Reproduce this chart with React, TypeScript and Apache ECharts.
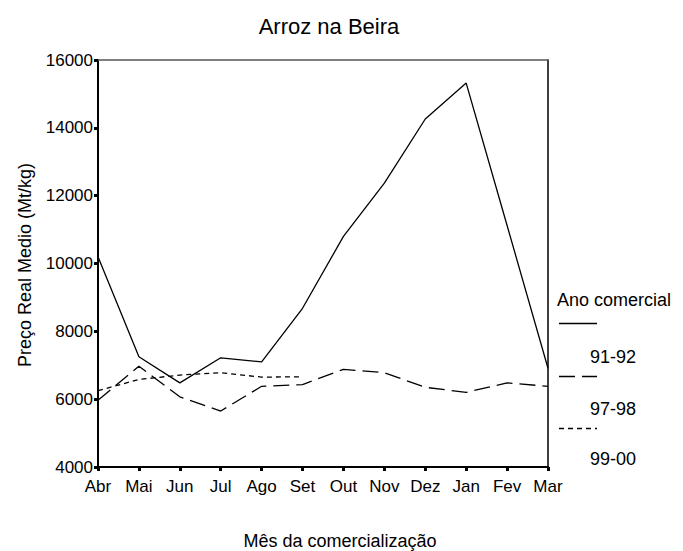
import React, { useEffect, useRef } from "react";
import * as echarts from "echarts";

const months = ["Abr", "Mai", "Jun", "Jul", "Ago", "Set", "Out", "Nov", "Dez", "Jan", "Fev", "Mar"];
const s9192 = [10200, 7250, 6480, 7220, 7100, 8680, 10800, 12370, 14260, 15320, 11120, 6910];
const s9798 = [5970, 6970, 6070, 5650, 6380, 6430, 6880, 6780, 6350, 6200, 6480, 6380];
const s9900 = [6250, 6580, 6710, 6780, 6650, 6660, null, null, null, null, null, null];
const seriesNames = ["91-92", "97-98", "99-00"];
const yMin = 4000;
const yMax = 16000;
const yStep = 2000;

const FONT = "Arial, 'Liberation Sans', sans-serif";
const dashes: (number[] | null)[] = [null, [16, 7], [5, 4]];

export default function App() {
  const ref = useRef<HTMLDivElement>(null);
  useEffect(() => {
    document.body.style.margin = "0";
    if (!ref.current) return;
    const chart = echarts.init(ref.current, null, { renderer: "svg" });
    const dataSets = [s9192, s9798, s9900];
    const legendX1 = 559;
    const legendX2 = 597;
    const legendLineY = [323.5, 376.5, 428.5];
    const legendTextY = [357, 409, 459];
    const legendGraphics: any[] = [];
    seriesNames.forEach((n, i) => {
      legendGraphics.push({
        type: "line",
        shape: { x1: legendX1, y1: legendLineY[i], x2: legendX2, y2: legendLineY[i] },
        style: { stroke: "#000", lineWidth: 1.3, lineDash: dashes[i] || undefined },
      });
      legendGraphics.push({
        type: "text",
        x: 590,
        y: legendTextY[i],
        style: { text: n, font: `18px ${FONT}`, fill: "#000", textAlign: "left", textVerticalAlign: "middle" },
      });
    });
    chart.setOption({
      animation: false,
      backgroundColor: "#fff",
      grid: { left: 98, right: 135, top: 60, bottom: 84, containLabel: false },
      xAxis: [
        {
          type: "category",
          data: months,
          boundaryGap: false,
          axisLine: { lineStyle: { color: "#000", width: 2 } },
          axisTick: { show: true, length: 4, inside: false, alignWithLabel: true, lineStyle: { color: "#000", width: 3 } },
          axisLabel: { color: "#000", fontSize: 17, fontFamily: FONT, margin: 11, interval: 0 },
          splitLine: { show: false },
        },
        {
          type: "category",
          data: months,
          boundaryGap: false,
          position: "top",
          axisLine: { lineStyle: { color: "#555", width: 1.5 } },
          axisTick: { show: false },
          axisLabel: { show: false },
          splitLine: { show: false },
        },
      ],
      yAxis: [
        {
          type: "value",
          min: yMin,
          max: yMax,
          interval: yStep,
          axisLine: { show: true, lineStyle: { color: "#000", width: 2 } },
          axisTick: { show: true, length: 4, lineStyle: { color: "#000", width: 3 } },
          axisLabel: {
            color: "#000",
            fontSize: 17,
            fontFamily: FONT,
            margin: 5,
            formatter: (v: number) => String(v),
          },
          splitLine: { show: false },
        },
        {
          type: "value",
          min: yMin,
          max: yMax,
          interval: yStep,
          position: "right",
          axisLine: { show: true, lineStyle: { color: "#000", width: 1.5 } },
          axisTick: { show: false },
          axisLabel: { show: false },
          splitLine: { show: false },
        },
      ],
      series: seriesNames.map((n, i) => ({
        name: n,
        type: "line",
        data: dataSets[i],
        showSymbol: false,
        symbol: "none",
        connectNulls: false,
        lineStyle: { color: "#000", width: 1.3, type: dashes[i] || "solid" },
      })),
      graphic: [
        {
          type: "text",
          x: 329,
          y: 26,
          style: { text: "Arroz na Beira", font: `22px ${FONT}`, fill: "#000", textAlign: "center", textVerticalAlign: "middle" },
        },
        {
          type: "text",
          x: 25,
          y: 265,
          rotation: Math.PI / 2,
          style: { text: "Preço Real Medio (Mt/kg)", font: `18px ${FONT}`, fill: "#000", textAlign: "center", textVerticalAlign: "middle" },
        },
        {
          type: "text",
          x: 340,
          y: 541,
          style: { text: "Mês da comercialização", font: `18px ${FONT}`, fill: "#000", textAlign: "center", textVerticalAlign: "middle" },
        },
        {
          type: "text",
          x: 557,
          y: 300,
          style: { text: "Ano comercial", font: `18px ${FONT}`, fill: "#000", textAlign: "left", textVerticalAlign: "middle" },
        },
        ...legendGraphics,
      ],
    });
    return () => chart.dispose();
  }, []);
  return <div ref={ref} style={{ width: 683, height: 551 }} />;
}
